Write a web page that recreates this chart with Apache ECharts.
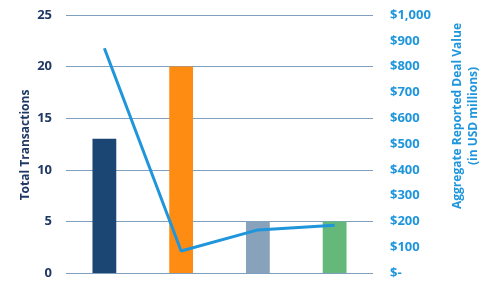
<!DOCTYPE html>
<html><head><meta charset="utf-8">
<script src="https://cdn.jsdelivr.net/npm/echarts@6/dist/echarts.min.js"></script>
<style>html,body{margin:0;padding:0;background:#fff}#c{width:493px;height:288px}</style>
</head><body><div id="c"></div>
<script>
const categories = ['A', 'B', 'C', 'D'];
const transactions = [13, 20, 5, 5];
const dealValue = [871, 85, 167, 185];
const barColors = ['#1b4674', '#ff8c12', '#87a2ba', '#63b87a'];
const leftTicks = [0, 5, 10, 15, 20, 25];

const chart = echarts.init(document.getElementById('c'));
const font = 'Open Sans';
chart.setOption({
  animation: false,
  grid: { left: 66, right: 120, top: 15, bottom: 15 },
  xAxis: {
    type: 'category', data: categories,
    axisLine: { show: false }, axisTick: { show: false }, axisLabel: { show: false }
  },
  yAxis: [{
    type: 'value', min: 0, max: 25, interval: 5,
    axisLine: { show: false }, axisTick: { show: false },
    axisLabel: { color: '#1f3864', fontFamily: font, fontWeight: 'bold', fontSize: 13, margin: 14 },
    splitLine: { lineStyle: { color: '#7f9fbf', width: 1 } }
  }, {
    type: 'value', min: 0, max: 1000, interval: 100, position: 'right',
    axisLine: { show: false }, axisTick: { show: false },
    axisLabel: {
      color: '#1f96dc', fontFamily: font, fontWeight: 'bold', fontSize: 13, margin: 17,
      formatter: v => v === 0 ? '$-' : '$' + v.toLocaleString('en-US')
    },
    splitLine: { show: false }
  }],
  graphic: [{
    type: 'text', x: 26, y: 145, rotation: Math.PI / 2,
    style: {
      text: 'Total Transactions',
      fill: '#1f3864', font: 'bold 12px "Open Sans"', align: 'center', verticalAlign: 'middle'
    }
  }, {
    type: 'text', x: 466, y: 116, rotation: Math.PI / 2,
    style: {
      text: 'Aggregate Reported Deal Value\n(in USD millions)',
      fill: '#1f96dc', font: 'bold 12px "Open Sans"', align: 'center', verticalAlign: 'middle', lineHeight: 16
    }
  }],
  series: [{
    type: 'bar', data: transactions.map((v, i) => ({ value: v, itemStyle: { color: barColors[i] } })),
    barWidth: '31%', yAxisIndex: 0
  }, {
    type: 'line', data: dealValue, yAxisIndex: 1, symbol: 'none',
    lineStyle: { color: '#1f96dc', width: 3 }
  }]
});
</script></body></html>
